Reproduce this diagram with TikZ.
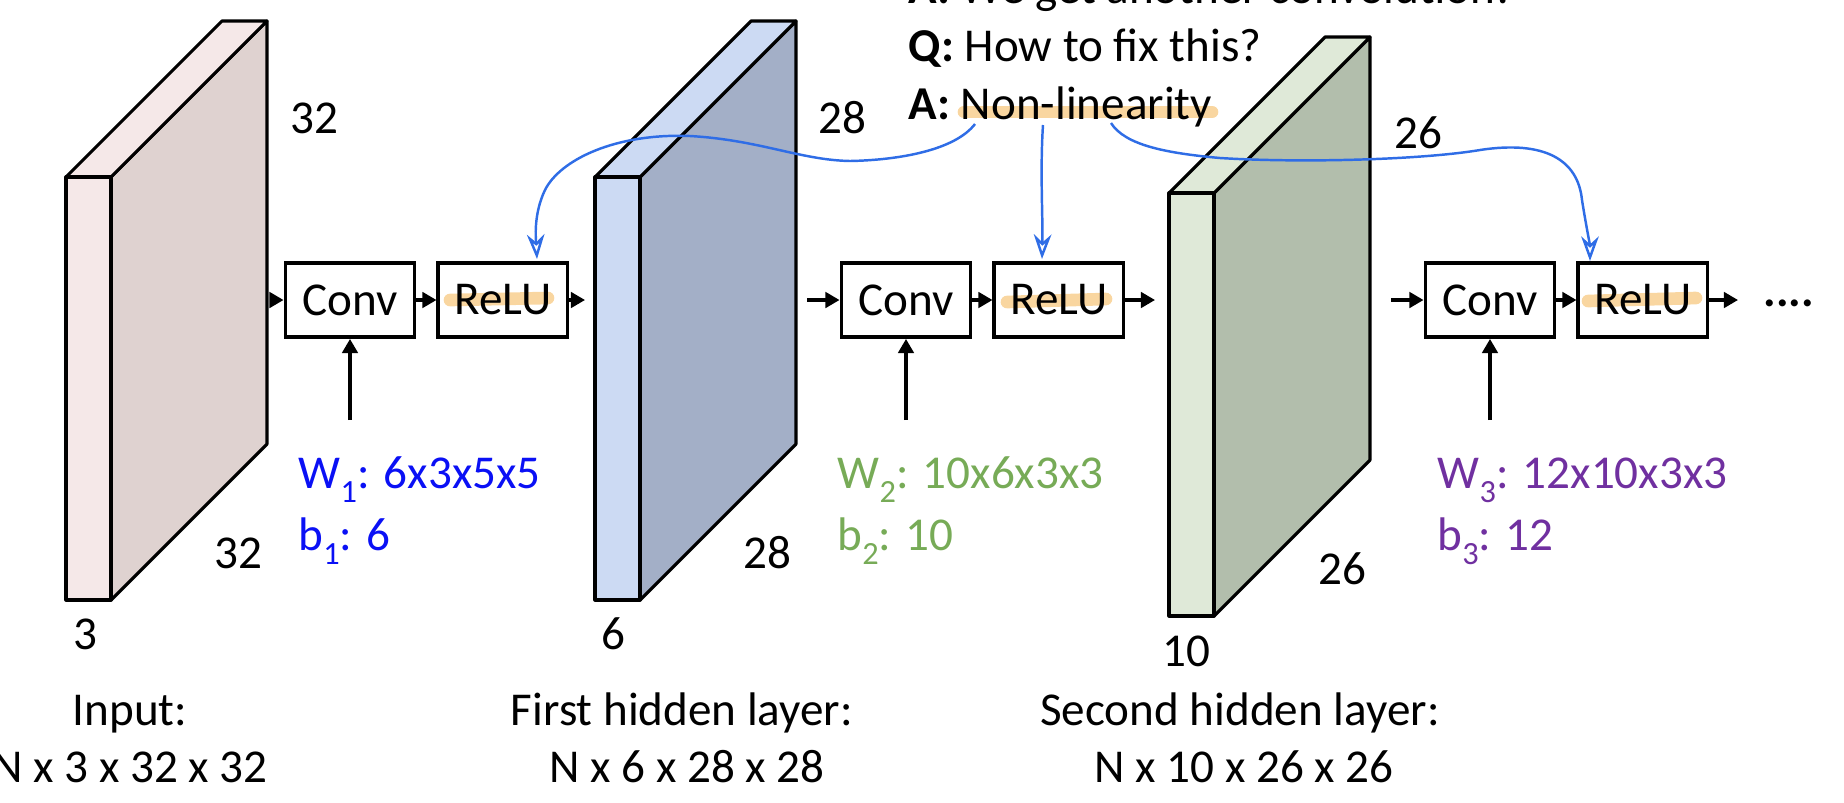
\documentclass[tikz,border=0pt]{standalone}
\usepackage{fontspec}
\setmainfont{Carlito}
\usepackage{tikz}
\usetikzlibrary{arrows.meta, positioning}
\usepackage{xcolor}
\definecolor{pinkface}{HTML}{F5E8E8}
\definecolor{pinkside}{HTML}{DFD2D0}
\definecolor{blueface}{HTML}{CCDAF3}
\definecolor{blueside}{HTML}{A3AFC7}
\definecolor{greenface}{HTML}{DFE9D8}
\definecolor{greenside}{HTML}{B2BEAC}
\definecolor{wblue}{HTML}{0A10F5}
\definecolor{wgreen}{HTML}{77AB57}
\definecolor{wpurple}{HTML}{7030A0}
\definecolor{inkblue}{HTML}{2F6DE6}
\definecolor{marker}{HTML}{F9D6A0}
% one feature-map slab: x, y of front top-left, face colour, side colour
\newcommand{\layerslab}[4]{%
  \filldraw[fill=#4, line width=0.9pt, line join=round] (#1,#2) ++(45,0) -- ++(156,-156) -- ++(0,423) -- ++(-156,156) -- cycle;
  \filldraw[fill=#3, line width=0.9pt, line join=round] (#1,#2) -- ++(156,-156) -- ++(45,0) -- ++(-156,156) -- cycle;
  \filldraw[fill=#3, line width=0.9pt, line join=round] (#1,#2) rectangle ++(45,423);
}
% layer index, set low as on the slide
\newcommand{\lowidx}[1]{\raisebox{-4pt}{\fontsize{9.2}{9.2}\selectfont #1}}

\begin{document}
\begin{tikzpicture}[
    x=0.01cm, y=-0.01cm,
    every node/.style={font=\fontsize{13.4}{16}\selectfont, inner sep=0pt},
    opbox/.style={draw, line width=1.1pt, minimum width=1.29cm, minimum height=0.74cm},
    wlbl/.style={anchor=base west},
    caption/.style={anchor=base},
    arr/.style={-{Triangle[length=4pt, width=4.4pt]}, line width=0.9pt},
    ink/.style={inkblue, line width=0.7pt, -{Stealth[open, length=7pt, width=5pt]}},
    hl/.style={marker, line width=3.6pt, line cap=round}
]
    \useasboundingbox (0,0) rectangle (1844,802);

    % slabs: input, first hidden, second hidden
    \layerslab{66}{177}{pinkface}{pinkside}
    \layerslab{595}{177}{blueface}{blueside}
    \layerslab{1169}{193}{greenface}{greenside}

    % marker strokes
    \draw[hl] (450,300) -- (548,298);
    \draw[hl] (1007,302) -- (1106,299);
    \draw[hl] (1588,301) -- (1696,298);
    \draw[hl] (964,112) -- (1212,112);

    % layer 1
    \node[opbox] (conv1) at (350,300) {Conv};
    \node[opbox, right=0.2cm of conv1] (relu1) {ReLU};
    \coordinate (x0) at (271,300);
    \coordinate (h1in) at (585,300);
    \coordinate (w1foot) at (350,420);
    % layer 2
    \node[opbox] (conv2) at (906,300) {Conv};
    \node[opbox, right=0.2cm of conv2] (relu2) {ReLU};
    \coordinate (h1out) at (807,300);
    \coordinate (h2in) at (1155,300);
    \coordinate (w2foot) at (906,420);
    % layer 3
    \node[opbox] (conv3) at (1490,300) {Conv};
    \node[opbox, right=0.2cm of conv3] (relu3) {ReLU};
    \coordinate (h2out) at (1391,300);
    \coordinate (tail) at (1738,300);
    \coordinate (w3foot) at (1490,420);
    \node[anchor=base west] (dots) at (1763,306) {\textbf{....}};

    \draw[arr] (x0) -- (conv1);
    \draw[arr] (conv1) -- (relu1);
    \draw[arr] (relu1) -- (h1in);
    \draw[arr] (w1foot) -- (conv1);
    \draw[arr] (h1out) -- (conv2);
    \draw[arr] (conv2) -- (relu2);
    \draw[arr] (relu2) -- (h2in);
    \draw[arr] (w2foot) -- (conv2);
    \draw[arr] (h2out) -- (conv3);
    \draw[arr] (conv3) -- (relu3);
    \draw[arr] (relu3) -- (tail);
    \draw[arr] (w3foot) -- (conv3);

    % sizes
    \node (in32a) at (314,118) {32};
    \node (in32b) at (238,553) {32};
    \node (in3) at (85,634) {3};
    \node (h128a) at (842,118) {28};
    \node (h128b) at (767,553) {28};
    \node (h16) at (613,634) {6};
    \node (h226a) at (1418,133) {26};
    \node (h226b) at (1342,569) {26};
    \node (h210) at (1186,651) {10};

    % weights
    \node[wlbl, text=wblue] (w1) at (298,488) {W\lowidx{1}: 6x3x5x5};
    \node[wlbl, text=wblue] (b1) at (298,550) {b\lowidx{1}: 6};
    \node[wlbl, text=wgreen] (w2) at (837,488) {W\lowidx{2}: 10x6x3x3};
    \node[wlbl, text=wgreen] (b2) at (837,550) {b\lowidx{2}: 10};
    \node[wlbl, text=wpurple] (w3) at (1437,488) {W\lowidx{3}: 12x10x3x3};
    \node[wlbl, text=wpurple] (b3) at (1437,550) {b\lowidx{3}: 12};

    % captions
    \node[caption] (inname) at (130,725) {Input:};
    \node[caption] (inshape) at (130,782) {N x 3 x 32 x 32};
    \node[caption] (h1name) at (682,725) {First hidden layer:};
    \node[caption] (h1shape) at (687,782) {N x 6 x 28 x 28};
    \node[caption] (h2name) at (1240,725) {Second hidden layer:};
    \node[caption] (h2shape) at (1244,782) {N x 10 x 26 x 26};

    % question and answer
    \node[anchor=base west] (qa0) at (908,3) {\textbf{A:} We get another convolution!};
    \node[anchor=base west] (qa1) at (908,61) {\textbf{Q:} How to fix this?};
    \node[anchor=base west] (qa2) at (908,119) {\textbf{A:} Non-linearity};

    % hand-drawn pointers
    \coordinate (nl1) at (975,124);
    \coordinate (nl2) at (1043,125);
    \coordinate (nl3) at (1111,123);
    \coordinate (r1tip) at (537,259);
    \coordinate (r2tip) at (1042,259);
    \coordinate (r3tip) at (1590,261);
    \draw[ink] (nl1) .. controls (955,150) and (900,160) .. (850,161) .. controls (800,160) and (760,140) .. (690,136) .. controls (615,133) and (560,160) .. (545,190) .. controls (533,215) and (536,240) .. (r1tip);
    \draw[ink] (nl2) .. controls (1040,170) and (1043,220) .. (r2tip);
    \draw[ink] (nl3) .. controls (1125,145) and (1165,153) .. (1220,158) .. controls (1300,163) and (1420,160) .. (1480,150) .. controls (1545,140) and (1578,160) .. (1582,200) .. controls (1586,225) and (1590,245) .. (r3tip);
\end{tikzpicture}
\end{document}
